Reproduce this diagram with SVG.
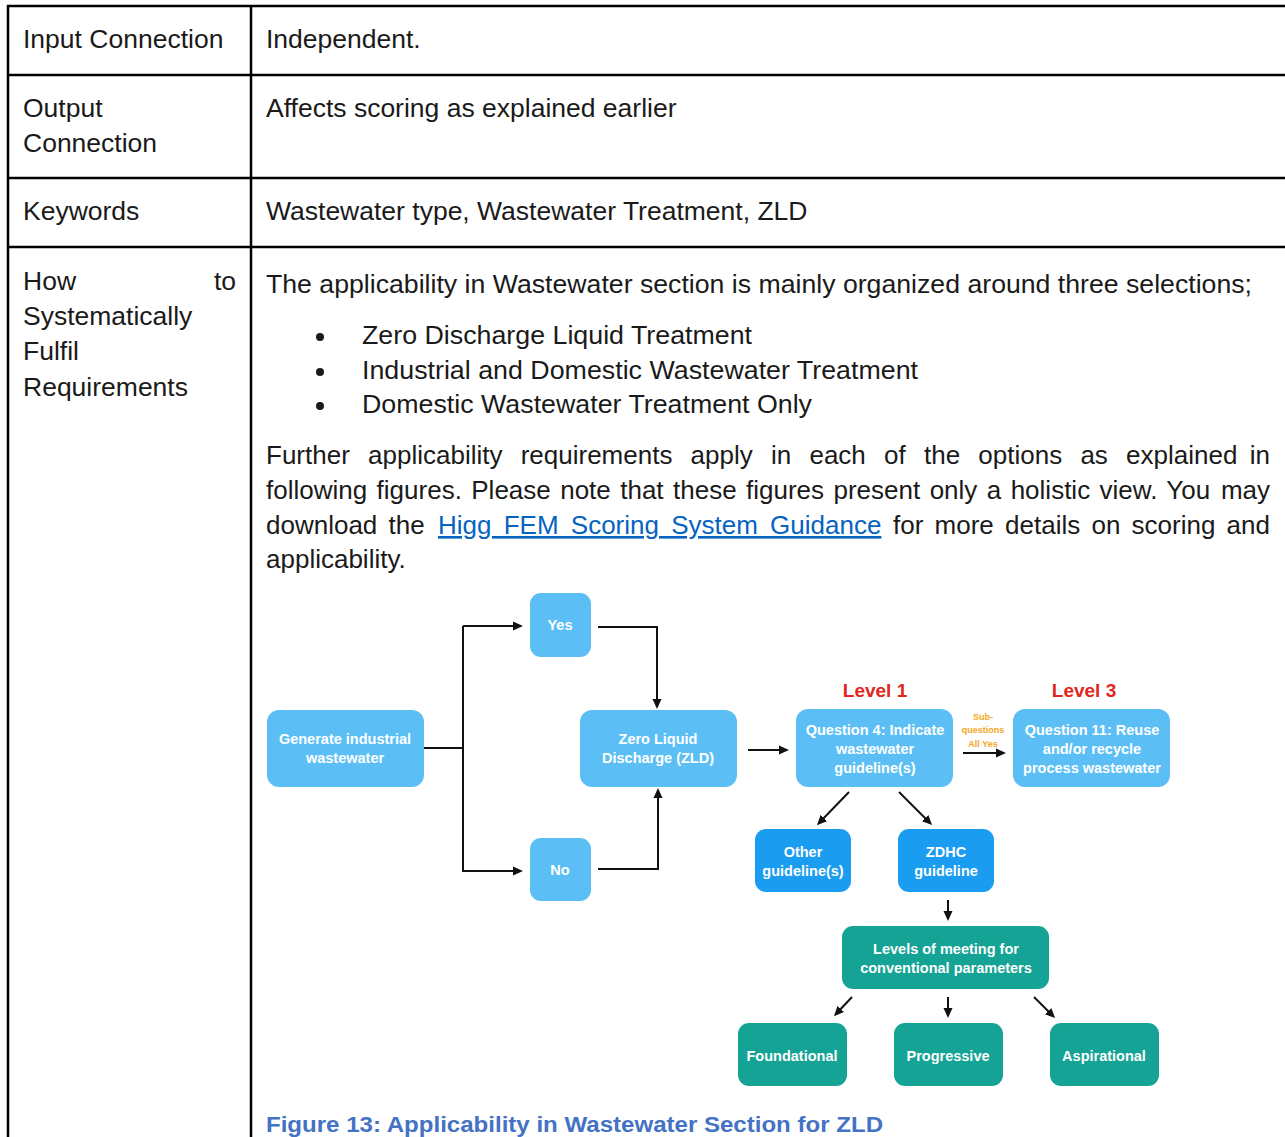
<svg xmlns="http://www.w3.org/2000/svg" width="1285" height="1137" viewBox="0 0 1285 1137">
<style>
.t{font-family:"Liberation Sans",Arial,sans-serif;font-size:26.5px;fill:#1a1a1a}
.p{font-family:"Liberation Sans",Arial,sans-serif;font-size:26px;fill:#1a1a1a}
.n{font-family:"Liberation Sans",Arial,sans-serif;font-size:14.5px;font-weight:bold;fill:#ffffff;text-anchor:middle}
.lb{fill:#5bbff6}
.db{fill:#1a9cf0}
.tl{fill:#14a394}
.lv{font-family:"Liberation Sans",Arial,sans-serif;font-size:19px;font-weight:bold;fill:#e2261c;text-anchor:middle}
.sq{font-family:"Liberation Sans",Arial,sans-serif;font-size:9px;font-weight:bold;fill:#f5a623;text-anchor:middle}
.c{fill:none;stroke:#111;stroke-width:2}
.grid{stroke:#000;stroke-width:2.5}
.lk{fill:#0563c1;text-decoration:underline}
</style>
<defs>
<marker id="ah" markerWidth="10" markerHeight="10" refX="7" refY="5" orient="auto" markerUnits="userSpaceOnUse">
<path d="M0,0.5 L10,5 L0,9.5 Z" fill="#111"/>
</marker>
</defs>
<rect width="1285" height="1137" fill="#fff"/>
<g id="table">
<line class="grid" x1="7" y1="6" x2="1285" y2="6"/>
<line class="grid" x1="7" y1="75" x2="1285" y2="75"/>
<line class="grid" x1="7" y1="178" x2="1285" y2="178"/>
<line class="grid" x1="7" y1="247" x2="1285" y2="247"/>
<line class="grid" x1="8" y1="5" x2="8" y2="1137"/>
<line class="grid" x1="251" y1="5" x2="251" y2="1137"/>
<text class="t" x="23" y="48">Input Connection</text>
<text class="t" x="23" y="117">Output</text>
<text class="t" x="23" y="152">Connection</text>
<text class="t" x="23" y="220">Keywords</text>
<text class="t" x="23" y="290">How</text>
<text class="t" x="236" y="290" text-anchor="end">to</text>
<text class="t" x="23" y="325">Systematically</text>
<text class="t" x="23" y="360">Fulfil</text>
<text class="t" x="23" y="396">Requirements</text>
<text class="t" x="266" y="48">Independent.</text>
<text class="t" x="266" y="117">Affects scoring as explained earlier</text>
<text class="t" x="266" y="220">Wastewater type, Wastewater Treatment, ZLD</text>
<text class="t" x="266" y="293" textLength="986" lengthAdjust="spacingAndGlyphs">The applicability in Wastewater section is mainly organized around three selections;</text>
<circle cx="320" cy="337" r="4" fill="#1a1a1a"/>
<circle cx="320" cy="372" r="4" fill="#1a1a1a"/>
<circle cx="320" cy="406" r="4" fill="#1a1a1a"/>
<text class="t" x="362" y="344" textLength="390" lengthAdjust="spacingAndGlyphs">Zero Discharge Liquid Treatment</text>
<text class="t" x="362" y="379" textLength="556" lengthAdjust="spacingAndGlyphs">Industrial and Domestic Wastewater Treatment</text>
<text class="t" x="362" y="413" textLength="450" lengthAdjust="spacingAndGlyphs">Domestic Wastewater Treatment Only</text>
<text class="p" x="266" y="464" word-spacing="11">Further applicability requirements apply in each of the options as explained</text>
<text class="p" x="1270" y="464" text-anchor="end">in</text>
<text class="p" x="266" y="499" word-spacing="2.2">following figures. Please note that these figures present only a holistic view. You</text>
<text class="p" x="1270" y="499" text-anchor="end">may</text>
<text class="p" x="266" y="534" word-spacing="4">download the</text>
<text class="p lk" x="438" y="534" word-spacing="5">Higg FEM Scoring System Guidance</text>
<text class="p" x="1270" y="534" text-anchor="end" word-spacing="4">for more details on scoring and</text>
<text class="p" x="266" y="568">applicability.</text>
<text x="266" y="1132" font-family="Liberation Sans, Arial, sans-serif" font-size="22" font-weight="bold" fill="#4472c4" textLength="617" lengthAdjust="spacingAndGlyphs">Figure 13: Applicability in Wastewater Section for ZLD</text>
</g>
<g id="connectors">
<polyline class="c" points="424,748 463,748"/>
<polyline class="c" points="519,871 463,871 463,626"/>
<line class="c" x1="463" y1="626" x2="520" y2="626" marker-end="url(#ah)"/>
<line class="c" x1="463" y1="871" x2="520" y2="871" marker-end="url(#ah)"/>
<polyline class="c" points="598,627 657,627 657,706" marker-end="url(#ah)"/>
<polyline class="c" points="598,869 658,869 658,791" marker-end="url(#ah)"/>
<line class="c" x1="748" y1="750" x2="786" y2="750" marker-end="url(#ah)"/>
<line class="c" x1="963" y1="753" x2="1003" y2="753" marker-end="url(#ah)"/>
<line class="c" x1="849" y1="792" x2="819" y2="823" marker-end="url(#ah)"/>
<line class="c" x1="899" y1="792" x2="930" y2="823" marker-end="url(#ah)"/>
<line class="c" x1="948" y1="900" x2="948" y2="918" marker-end="url(#ah)"/>
<line class="c" x1="852" y1="997" x2="836" y2="1014" marker-end="url(#ah)"/>
<line class="c" x1="948" y1="997" x2="948" y2="1015" marker-end="url(#ah)"/>
<line class="c" x1="1034" y1="997" x2="1053" y2="1016" marker-end="url(#ah)"/>
</g>
<g id="n-generate">
<rect class="lb" x="267" y="710" width="157" height="77" rx="12"/>
<text class="n" x="345" y="744">Generate industrial</text>
<text class="n" x="345" y="763">wastewater</text>
</g>
<g id="n-yes">
<rect class="lb" x="530" y="593" width="61" height="64" rx="11"/>
<text class="n" x="560" y="630">Yes</text>
</g>
<g id="n-no">
<rect class="lb" x="530" y="838" width="61" height="63" rx="11"/>
<text class="n" x="560" y="875">No</text>
</g>
<g id="n-zld">
<rect class="lb" x="580" y="710" width="157" height="77" rx="12"/>
<text class="n" x="658" y="744">Zero Liquid</text>
<text class="n" x="658" y="763">Discharge (ZLD)</text>
</g>
<g id="n-level1"><text class="lv" x="875" y="697">Level 1</text></g>
<g id="n-level3"><text class="lv" x="1084" y="697">Level 3</text></g>
<g id="n-q4">
<rect class="lb" x="796" y="709" width="157" height="78" rx="12"/>
<text class="n" x="875" y="735">Question 4: Indicate</text>
<text class="n" x="875" y="754">wastewater</text>
<text class="n" x="875" y="773">guideline(s)</text>
</g>
<g id="n-sub">
<text class="sq" x="983" y="720">Sub-</text>
<text class="sq" x="983" y="733">questions</text>
<text class="sq" x="983" y="747">All Yes</text>
</g>
<g id="n-q11">
<rect class="lb" x="1013" y="709" width="157" height="78" rx="12"/>
<text class="n" x="1092" y="735">Question 11: Reuse</text>
<text class="n" x="1092" y="754">and/or recycle</text>
<text class="n" x="1092" y="773">process wastewater</text>
</g>
<g id="n-other">
<rect class="db" x="755" y="829" width="96" height="63" rx="11"/>
<text class="n" x="803" y="857">Other</text>
<text class="n" x="803" y="876">guideline(s)</text>
</g>
<g id="n-zdhc">
<rect class="db" x="898" y="829" width="96" height="63" rx="11"/>
<text class="n" x="946" y="857">ZDHC</text>
<text class="n" x="946" y="876">guideline</text>
</g>
<g id="n-levels">
<rect class="tl" x="842" y="926" width="207" height="63" rx="11"/>
<text class="n" x="946" y="954">Levels of meeting for</text>
<text class="n" x="946" y="973">conventional parameters</text>
</g>
<g id="n-foundational">
<rect class="tl" x="738" y="1023" width="109" height="63" rx="11"/>
<text class="n" x="792" y="1061">Foundational</text>
</g>
<g id="n-progressive">
<rect class="tl" x="894" y="1023" width="109" height="63" rx="11"/>
<text class="n" x="948" y="1061">Progressive</text>
</g>
<g id="n-aspirational">
<rect class="tl" x="1050" y="1023" width="109" height="63" rx="11"/>
<text class="n" x="1104" y="1061">Aspirational</text>
</g>
</svg>
